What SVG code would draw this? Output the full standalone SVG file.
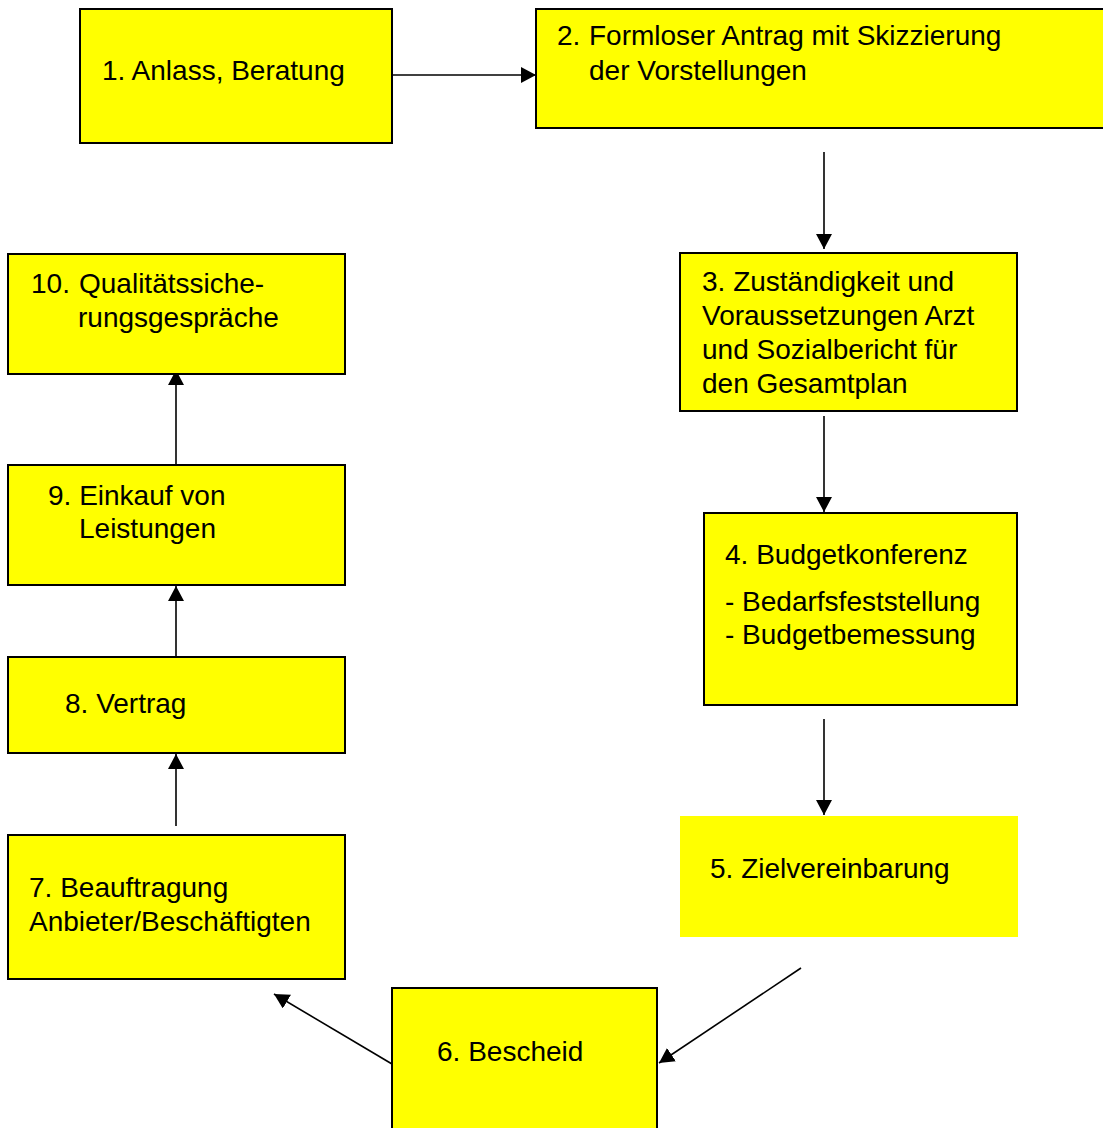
<svg xmlns="http://www.w3.org/2000/svg" width="1103" height="1128" viewBox="0 0 1103 1128">
<style>
.box{fill:#FFFF00;stroke:#000;stroke-width:2}
.nob{fill:#FFFF00;stroke:none}
.t{font-family:"Liberation Sans",Arial,sans-serif;font-size:28px;fill:#000}
.c{stroke:#000;stroke-width:1.6;fill:none;marker-end:url(#ah)}
</style>
<defs>
<marker id="ah" markerUnits="userSpaceOnUse" markerWidth="16" markerHeight="16" refX="15" refY="8" orient="auto">
<path d="M0,0 L15,8 L0,16 z" fill="#000"/>
</marker>
</defs>
<rect width="1103" height="1128" fill="#fff"/>
<g id="connectors">
<line class="c" x1="392" y1="75" x2="536" y2="75"/>
<line class="c" x1="824" y1="152" x2="824" y2="249"/>
<line class="c" x1="824" y1="416" x2="824" y2="512"/>
<line class="c" x1="824" y1="719" x2="824" y2="815"/>
<line class="c" x1="801" y1="968" x2="659" y2="1063"/>
<line class="c" x1="392" y1="1064" x2="274" y2="994"/>
<line class="c" x1="176" y1="826" x2="176" y2="754"/>
<line class="c" x1="176" y1="657" x2="176" y2="586"/>
<line class="c" x1="176" y1="465" x2="176" y2="370"/>
</g>
<g id="n1">
<rect class="box" x="80" y="9" width="312" height="134"/>
<text class="t" x="102" y="80">1. Anlass, Beratung</text>
</g>
<g id="n2">
<rect class="box" x="536" y="9" width="580" height="119"/>
<text class="t" x="557" y="45">2. <tspan x="589">Formloser Antrag mit Skizzierung</tspan></text>
<text class="t" x="589" y="80">der Vorstellungen</text>
</g>
<g id="n3">
<rect class="box" x="680" y="253" width="337" height="158"/>
<text class="t" x="702" y="291">3. Zuständigkeit und</text>
<text class="t" x="702" y="325">Voraussetzungen Arzt</text>
<text class="t" x="702" y="359">und Sozialbericht für</text>
<text class="t" x="702" y="393">den Gesamtplan</text>
</g>
<g id="n4">
<rect class="box" x="704" y="513" width="313" height="192"/>
<text class="t" x="725" y="564">4. Budgetkonferenz</text>
<text class="t" x="725" y="611">- Bedarfsfeststellung</text>
<text class="t" x="725" y="644">- Budgetbemessung</text>
</g>
<g id="n5">
<rect class="nob" x="680" y="816" width="338" height="121"/>
<text class="t" x="710" y="878">5. Zielvereinbarung</text>
</g>
<g id="n6">
<rect class="box" x="392" y="988" width="265" height="150"/>
<text class="t" x="437" y="1061">6. Bescheid</text>
</g>
<g id="n7">
<rect class="box" x="8" y="835" width="337" height="144"/>
<text class="t" x="29" y="897">7. Beauftragung</text>
<text class="t" x="29" y="931">Anbieter/Beschäftigten</text>
</g>
<g id="n8">
<rect class="box" x="8" y="657" width="337" height="96"/>
<text class="t" x="65" y="713">8. Vertrag</text>
</g>
<g id="n9">
<rect class="box" x="8" y="465" width="337" height="120"/>
<text class="t" x="48" y="505">9. Einkauf von</text>
<text class="t" x="79" y="538">Leistungen</text>
</g>
<g id="n10">
<rect class="box" x="8" y="254" width="337" height="120"/>
<text class="t" x="31" y="293">10. <tspan x="79">Qualitätssiche-</tspan></text>
<text class="t" x="78" y="327">rungsgespräche</text>
</g>
</svg>
